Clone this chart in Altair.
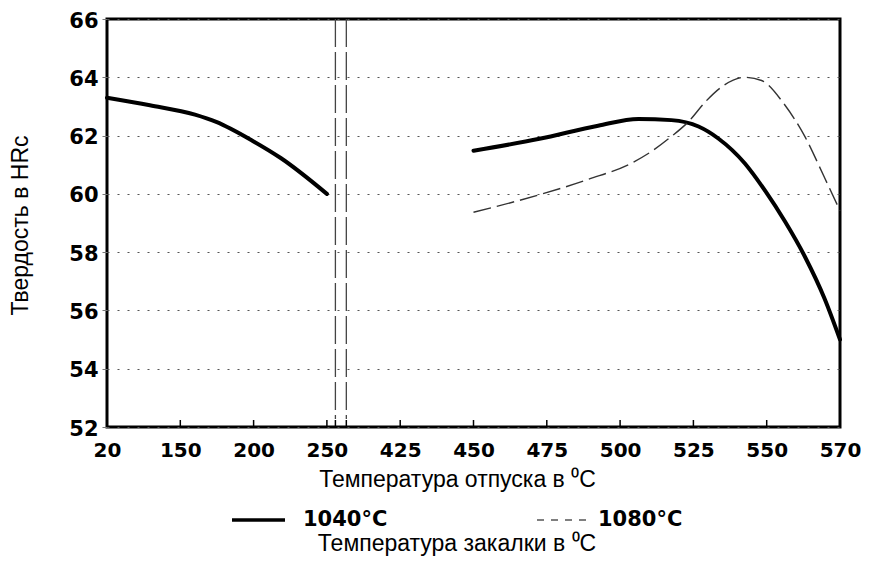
import json
import altair as alt
import pandas as pd

# ---- data ----
X_LABELS = ["20", "150", "200", "250", "425", "450", "475", "500", "525", "550", "570"]
SERIES = ["1040°C", "1080°C"]
X_TITLE = "Температура отпуска в ⁰C"
Y_TITLE = "Твердость в HRc"
LEGEND_TITLE = "Температура закалки в ⁰C"

# positions are in axis slots (0 = "20", 10 = "570")
X_1040_A = [0, 0.585, 1.2, 1.49, 2.0, 2.37, 3.0]
Y_1040_A = [63.3, 63.04, 62.72, 62.47, 61.8, 61.23, 60.0]
X_1040_B = [5.0, 5.9, 6.7, 7.25, 7.7, 8.07, 8.34, 8.70, 8.98, 9.25, 9.52, 9.79, 10.0]
Y_1040_B = [61.48, 61.89, 62.34, 62.57, 62.53, 62.31, 61.90, 61.05, 60.10, 59.05, 57.85, 56.40, 55.0]
X_1080 = [5.0, 5.9, 6.57, 7.16, 7.43, 7.7, 7.93, 8.16, 8.38, 8.70, 8.93, 9.25, 9.52, 9.79, 10.0]
Y_1080 = [59.37, 59.97, 60.5, 61.06, 61.46, 61.97, 62.47, 63.15, 63.66, 64.0, 63.89, 63.04, 61.97, 60.55, 59.42]
BREAK_POS = [3.116, 3.265]
TICK_POS = [1, 2, 3, 4, 5, 6, 7, 8, 9] + BREAK_POS
Y_TICKS = [52, 54, 56, 58, 60, 62, 64, 66]

W, H = 733, 408

df_1040 = pd.DataFrame({
    "pos": X_1040_A + X_1040_B,
    "hrc": Y_1040_A + Y_1040_B,
    "seg": ["a"] * len(X_1040_A) + ["b"] * len(X_1040_B),
    "series": SERIES[0],
})
df_1080 = pd.DataFrame({"pos": X_1080, "hrc": Y_1080, "series": SERIES[1]})
df_break = pd.DataFrame({"pos": BREAK_POS})
df_ticks = pd.DataFrame({"pos": TICK_POS})

label_expr = json.dumps(X_LABELS) + "[datum.value]"

x_enc = alt.X(
    "pos:Q",
    scale=alt.Scale(domain=[0, 10], nice=False, zero=False),
    axis=alt.Axis(
        values=list(range(11)), labelExpr=label_expr, labelOverlap=False, labelFlush=False,
        title=X_TITLE, titleX=350, titleY=52, titleAlign="center", titleBaseline="middle",
        titleFont="Liberation Sans", titleFontSize=23, titleFontWeight="normal", titleColor="black",
        labelFont="DejaVu Sans", labelFontSize=20, labelFontWeight="bold", labelColor="black",
        labelPadding=13, ticks=False, domain=False, grid=False,
    ),
)
y_enc = alt.Y(
    "hrc:Q",
    scale=alt.Scale(domain=[52, 66], nice=False, zero=False),
    axis=alt.Axis(
        values=Y_TICKS, labelOverlap=False, labelOffset=2,
        title=Y_TITLE, titleX=-87, titleY=206, titleAngle=270, titleAlign="center",
        titleBaseline="middle", titleFont="Liberation Sans", titleFontSize=23,
        titleFontWeight="normal", titleColor="black",
        labelFont="DejaVu Sans", labelFontSize=21, labelFontWeight="bold", labelColor="black",
        labelPadding=4, tickSize=5, tickColor="#777", tickWidth=1, domain=False,
        grid=True, gridDash=[2, 8], gridColor="#555", gridWidth=1.2,
    ),
)

line_1040 = alt.Chart(df_1040).mark_line(
    interpolate="monotone", color="black", strokeWidth=4, strokeCap="round"
).encode(x=x_enc, y=y_enc, detail="seg:N")

line_1080 = alt.Chart(df_1080).mark_line(
    interpolate="monotone", color="#333", strokeWidth=1.4, strokeDash=[18, 6]
).encode(x="pos:Q", y="hrc:Q")

breaks = alt.Chart(df_break).mark_rule(
    color="#444", strokeWidth=1.3, strokeDash=[28, 5]
).encode(x="pos:Q", y=alt.value(0), y2=alt.value(H - 8))

ticks = alt.Chart(df_ticks).mark_rule(color="black", strokeWidth=1.5).encode(
    x="pos:Q", y=alt.value(H), y2=alt.value(H - 7)
)

# legend drawn below the axis title
leg_df0 = pd.DataFrame({"series": [SERIES[0]]})
leg_df1 = pd.DataFrame({"series": [SERIES[1]]})
leg_title_df = pd.DataFrame({"t": [LEGEND_TITLE]})

LEG_Y = 501
leg_line0 = alt.Chart(leg_df0).mark_rule(color="black", strokeWidth=3.5).encode(
    x=alt.value(125), x2=alt.value(178), y=alt.value(LEG_Y)
)
leg_line1 = alt.Chart(leg_df1).mark_rule(color="#555", strokeWidth=1.3, strokeDash=[7, 7]).encode(
    x=alt.value(430), x2=alt.value(486), y=alt.value(LEG_Y)
)
leg_txt0 = alt.Chart(leg_df0).mark_text(
    align="left", baseline="middle", font="DejaVu Sans", fontWeight="bold", fontSize=21, color="black"
).encode(x=alt.value(196), y=alt.value(LEG_Y), text="series:N")
leg_txt1 = alt.Chart(leg_df1).mark_text(
    align="left", baseline="middle", font="DejaVu Sans", fontWeight="bold", fontSize=21, color="black"
).encode(x=alt.value(491), y=alt.value(LEG_Y), text="series:N")
leg_title = alt.Chart(leg_title_df).mark_text(
    align="center", baseline="middle", font="Liberation Sans", fontSize=23, color="black"
).encode(x=alt.value(350), y=alt.value(525), text="t:N")

chart = alt.layer(
    line_1040, line_1080, breaks, ticks,
    leg_line0, leg_line1, leg_txt0, leg_txt1, leg_title,
).properties(
    width=W, height=H,
    autosize=alt.AutoSizeParams(type="none"),
    padding={"left": 99, "top": 11, "right": 21, "bottom": 129},
    background="white",
).configure_view(stroke="black", strokeWidth=3)

chart.save("out.html", embed_options={"renderer": "svg", "actions": False})
